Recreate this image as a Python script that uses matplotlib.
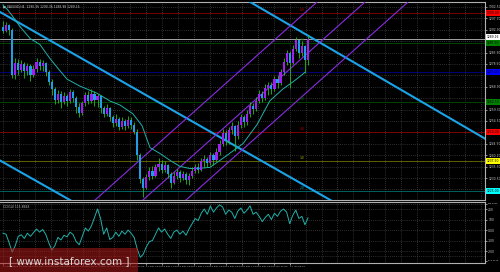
import numpy as np
import matplotlib
matplotlib.use("Agg")
import matplotlib.pyplot as plt
from matplotlib.patches import Rectangle

title = "XAUUSD,H4  1290.36 1290.36 1288.98 1289.16"

# H4 candles (open = previous close)
first_open = 1294.0
closes = [1292.5, 1295.0, 1293.0, 1274.0, 1279.0, 1276.0, 1278.5, 1275.5, 1277.5, 1274.0,
          1276.5, 1279.5, 1277.5, 1279.0, 1275.0, 1271.0, 1268.0, 1263.5, 1266.0, 1262.5,
          1265.0, 1263.0, 1266.5, 1264.0, 1260.5, 1258.0, 1262.0, 1265.5, 1263.0, 1266.0,
          1263.5, 1265.0, 1260.0, 1257.5, 1260.0, 1256.0, 1253.5, 1255.5, 1252.0, 1254.5,
          1252.5, 1255.0, 1253.0, 1250.0, 1240.0, 1230.0, 1226.5, 1231.0, 1233.5, 1231.5,
          1235.0, 1236.5, 1234.0, 1236.0, 1232.0, 1228.5, 1231.5, 1233.0, 1230.5, 1232.0,
          1229.5, 1231.5, 1233.5, 1235.0, 1234.0, 1237.5, 1238.5, 1237.0, 1240.0, 1238.0,
          1241.5, 1245.0, 1249.5, 1246.0, 1250.5, 1252.5, 1248.0, 1253.0, 1256.0, 1254.0,
          1257.5, 1261.0, 1259.5, 1263.0, 1266.0, 1264.0, 1268.5, 1269.5, 1268.0, 1272.0,
          1270.5, 1275.0, 1279.5, 1283.0, 1279.0, 1285.0, 1288.5, 1283.0, 1286.0, 1280.0,
          1289.16]
highs = [1296.5, 1296.0, 1295.5, 1293.5, 1281.0, 1280.5, 1280.0, 1279.5, 1279.0, 1278.5,
         1278.0, 1281.0, 1280.5, 1280.0, 1279.5, 1276.0, 1272.0, 1269.0, 1267.5, 1267.0,
         1266.5, 1266.0, 1268.0, 1267.5, 1265.0, 1262.0, 1263.0, 1266.5, 1267.0, 1268.0,
         1267.0, 1266.0, 1265.5, 1261.0, 1261.5, 1260.5, 1257.0, 1257.5, 1256.0, 1256.0,
         1255.5, 1256.5, 1256.0, 1254.0, 1251.0, 1241.0, 1231.0, 1232.0, 1235.0, 1235.5,
         1236.5, 1239.0, 1238.0, 1237.5, 1236.5, 1233.0, 1233.0, 1234.5, 1234.0, 1233.5,
         1233.0, 1232.5, 1235.0, 1236.5, 1237.0, 1239.0, 1240.0, 1239.5, 1241.5, 1241.0,
         1243.0, 1246.5, 1251.0, 1250.5, 1252.0, 1254.0, 1253.0, 1254.5, 1257.5, 1257.0,
         1259.0, 1262.5, 1262.0, 1264.5, 1267.5, 1267.0, 1270.0, 1271.0, 1271.0, 1273.5,
         1274.0, 1276.5, 1281.0, 1284.5, 1284.0, 1286.5, 1290.0, 1288.5, 1288.0, 1286.5,
         1290.5]
lows = [1291.5, 1292.0, 1290.5, 1272.5, 1272.0, 1274.0, 1275.0, 1272.5, 1274.0, 1271.5,
        1273.0, 1275.0, 1276.0, 1275.5, 1273.5, 1269.5, 1265.5, 1261.5, 1262.0, 1260.0,
        1261.5, 1261.0, 1262.0, 1262.5, 1258.0, 1256.0, 1257.0, 1261.0, 1261.5, 1262.0,
        1261.0, 1260.5, 1258.0, 1256.0, 1256.5, 1254.5, 1252.0, 1252.5, 1250.5, 1251.0,
        1250.5, 1251.5, 1251.0, 1249.0, 1238.0, 1228.5, 1222.5, 1226.0, 1229.5, 1230.0,
        1231.0, 1233.5, 1232.5, 1233.0, 1230.5, 1226.2, 1228.0, 1230.0, 1229.0, 1229.5,
        1228.0, 1227.5, 1230.5, 1232.5, 1232.5, 1233.5, 1235.0, 1235.0, 1236.0, 1236.0,
        1237.5, 1240.0, 1244.0, 1244.5, 1245.0, 1249.0, 1242.0, 1247.0, 1251.5, 1252.0,
        1253.0, 1256.0, 1257.5, 1258.5, 1262.0, 1262.5, 1263.5, 1265.5, 1266.0, 1267.0,
        1268.5, 1269.5, 1274.0, 1278.0, 1268.5, 1278.5, 1284.0, 1281.0, 1282.0, 1274.5,
        1278.0]

# moving average, read at candle positions
ma_idx = [0.0, 1.6, 3.3, 5.6, 8.9, 12.1, 15.4, 18.0, 21.0, 25.2, 30.8, 35.1, 38.4, 42.6,
          45.6, 48.2, 51.5, 54.8, 58.0, 61.3, 64.6, 67.9, 73.4, 78.7, 83.3, 87.5, 91.8,
          95.1, 97.4, 99.0]
ma_vals = [1303.3, 1301.2, 1298.3, 1294.2, 1289.2, 1286.7, 1280.8, 1276.7, 1272.1, 1269.2,
           1266.2, 1262.9, 1261.2, 1257.5, 1252.5, 1243.3, 1240.8, 1237.9, 1235.4, 1234.5,
           1234.6, 1235.0, 1240.0, 1245.0, 1253.0, 1263.0, 1268.0, 1271.0, 1273.3, 1275.0]

# trend lines: (idx0, price0, idx1, price1)
blue_lines = [(-1.0, 1300.4, 158.0, 1184.2),
              (-1.0, 1237.9, 158.0, 1122.5),
              (81.0, 1304.6, 158.0, 1247.1)]
purple_lines = [(30.2, 1221.25, 102.95, 1304.58),
                (45.9, 1221.25, 118.7, 1304.58),
                (60.0, 1221.25, 132.8, 1304.58)]

# Murray levels
murray_prices = [1300.0, 1287.5, 1275.0, 1262.5, 1250.0, 1237.5, 1225.0]
murray_names = ["8/8", "7/8", "6/8", "5/8", "4/8", "3/8", "2/8"]
murray_line_colors = ["#8b0000", "#005000", "#00008b", "#005000", "#8b0000", "#707000", "#007070"]
murray_text_colors = ["#b00000", "#007000", "#0000b0", "#007000", "#b00000", "#a0a000", "#00a0a0"]
murray_box_colors = ["#ff0000", "#008000", "#0000ff", "#008000", "#ff0000", "#ffff00", "#00ffff"]
bid = 1289.16

price_ticks = [1302.50, 1297.70, 1292.90, 1288.10, 1283.30, 1278.50, 1273.70, 1268.90,
               1264.10, 1259.30, 1254.50, 1249.70, 1244.90, 1240.10, 1235.30, 1230.50,
               1225.70]

# CCI(14)
cci = [-30, -40, -120, -210, -150, -60, -45, -80, -30, -60,
       -25, 10, -20, 5, -40, -120, -190, -150, -70, -95,
       -50, -65, -20, -45, -110, -140, -60, 20, -10, 40,
       120, 200, 110, -40, 20, -90, -70, -20, -60, -10,
       -40, 0, -30, -70, -180, -260, -230, -160, -110, -100,
       -40, 20, -20, 10, -40, -80, -20, 0, -40, -10,
       -50, 10, 60, 110, 90, 160, 200, 150, 230, 170,
       210, 240, 220, 150, 190, 170, 110, 180, 210, 160,
       190, 230, 150, 170, 130, 80, 120, 150, 100, 160,
       130, 180, 200, 170, 60, 140, 190, 110, 130, 50,
       115.8663]
cci_levels = [250, 200, 100, 0, -100, -200, -250]
cci_ticks = [252, 200, 100, 0, -100, -200, -292]
cci_tick_labels = ["266.5034", "200", "100", "0.00", "-100", "-200", "-314.1128"]

date_labels = ["21 Nov 2018", "23 Nov 09:00", "26 Nov 17:00", "28 Nov 09:00", "29 Nov 17:00",
               "3 Dec 09:00", "4 Dec 17:00", "6 Dec 09:00", "7 Dec 17:00", "11 Dec 09:00",
               "12 Dec 17:00", "14 Dec 09:00", "17 Dec 17:00", "19 Dec 09:00", "21 Dec 09:00",
               "26 Dec 17:00", "31 Dec 09:00", "7 Jan 01:00", "11 Jan 09:00"]

BG = "black"
GRID = "#5a5a5a"
FRAME = "#b0b0b0"
TXT = "#c8c8c8"
FS = 2.2

n = len(closes)
idx = np.arange(n)
opens = [first_open] + closes[:-1]
xlim = (-0.98, 158.03)

fig = plt.figure(figsize=(5, 2.72), dpi=100, facecolor=BG)
ax = fig.add_axes([0, 72 / 272, 485 / 500, 198 / 272])
ax2 = fig.add_axes([0, 9 / 272, 485 / 500, 61 / 272])

for a in (ax, ax2):
    a.set_facecolor(BG)
    for s in a.spines.values():
        s.set_color(FRAME)
        s.set_linewidth(0.8)
    a.spines["left"].set_visible(False)
    a.yaxis.tick_right()
    a.tick_params(axis="y", colors=TXT, labelsize=FS, length=1.5, width=0.5, pad=0.8)
    a.set_xlim(*xlim)

# grid
step = 94.0 / (len(date_labels) - 1)
grid_x = np.arange(0, xlim[1], step)
for a in (ax, ax2):
    for gx in grid_x:
        a.axvline(gx, color=GRID, lw=0.5, ls=(0, (1, 2)), zorder=0)
for p in price_ticks:
    ax.axhline(p, color=GRID, lw=0.5, ls=(0, (1, 2)), zorder=0)

ax.set_ylim(1221.25, 1304.58)
marked = murray_prices + [bid]
shown = [p for p in price_ticks if min(abs(p - m) for m in marked) > 2.2]
ax.set_yticks(shown)
ax.set_yticklabels(["%.2f" % p for p in shown])
ax.set_xticks([])

# Murray levels
for p, nm, lc, tc, bc in zip(murray_prices, murray_names, murray_line_colors,
                             murray_text_colors, murray_box_colors):
    ax.axhline(p, color=lc, lw=0.6, zorder=1)
    ax.text(98, p + 0.4, nm, color=tc, fontsize=FS, ha="center", va="bottom", zorder=5)
    ax.text(1.003, p, "%.2f" % p, transform=ax.get_yaxis_transform(), fontsize=FS,
            color="black", ha="left", va="center", clip_on=False,
            bbox=dict(boxstyle="square,pad=0.3", fc=bc, ec="none"))
ax.axhline(bid, color="#bdbdbd", lw=0.6, zorder=1)
ax.text(1.003, bid + 0.6, "%.2f" % bid, transform=ax.get_yaxis_transform(), fontsize=FS,
        color="black", ha="left", va="center", clip_on=False,
        bbox=dict(boxstyle="square,pad=0.3", fc="white", ec="none"))

# trend lines
for x0, y0, x1, y1 in blue_lines:
    ax.plot([x0, x1], [y0, y1], color="#1aa3e8", lw=1.5, zorder=3)
for x0, y0, x1, y1 in purple_lines:
    ax.plot([x0, x1], [y0, y1], color="#8a2be2", lw=0.8, zorder=3)

# moving average
ax.plot(ma_idx, ma_vals, color="#20b2aa", lw=0.7, zorder=4)

# candles
ax.vlines(idx, lows, highs, color="#22c022", lw=0.6, zorder=5)
body_col = ["#a020f0" if c >= o else "#1e9ee6" for o, c in zip(opens, closes)]
bottoms = [min(o, c) for o, c in zip(opens, closes)]
heights = [max(abs(c - o), 0.15) for o, c in zip(opens, closes)]
ax.bar(idx, heights, bottom=bottoms, width=0.7, color=body_col, lw=0, zorder=6)

ax.text(0.006, 0.985, "\u25a0 " + title, transform=ax.transAxes, color=TXT,
        fontsize=FS, ha="left", va="top")

# CCI panel
ax2.set_ylim(-314, 267)
for lv in cci_levels:
    ax2.axhline(lv, color=GRID, lw=0.5, ls=(0, (1, 2)), zorder=0)
ax2.set_yticks(cci_ticks)
ax2.set_yticklabels(cci_tick_labels)
for lab in ax2.get_yticklabels():
    if len(lab.get_text()) > 5:
        lab.set_fontsize(1.6)
ax2.plot(idx, cci, color="#20b2aa", lw=0.7)
ax2.text(0.006, 0.95, "CCI(14) 115.8663", transform=ax2.transAxes, color=TXT,
         fontsize=FS, ha="left", va="top")
ax2.set_xticks(grid_x[:len(date_labels)])
ax2.set_xticklabels(date_labels, ha="left")
ax2.tick_params(axis="x", colors=TXT, labelsize=1.7, length=1.5, width=0.5, pad=1)

# watermark
fig.patches.append(Rectangle((0, 0), 138 / 500, 24 / 272, transform=fig.transFigure,
                             fc="#b01818", ec="none", alpha=0.55, zorder=10))
fig.text(69 / 500, 11 / 272, "[ www.instaforex.com ]", color="#d8d8d8", fontsize=7.5,
         ha="center", va="center", zorder=11)

fig.savefig("out.png", dpi=100, facecolor=BG)
